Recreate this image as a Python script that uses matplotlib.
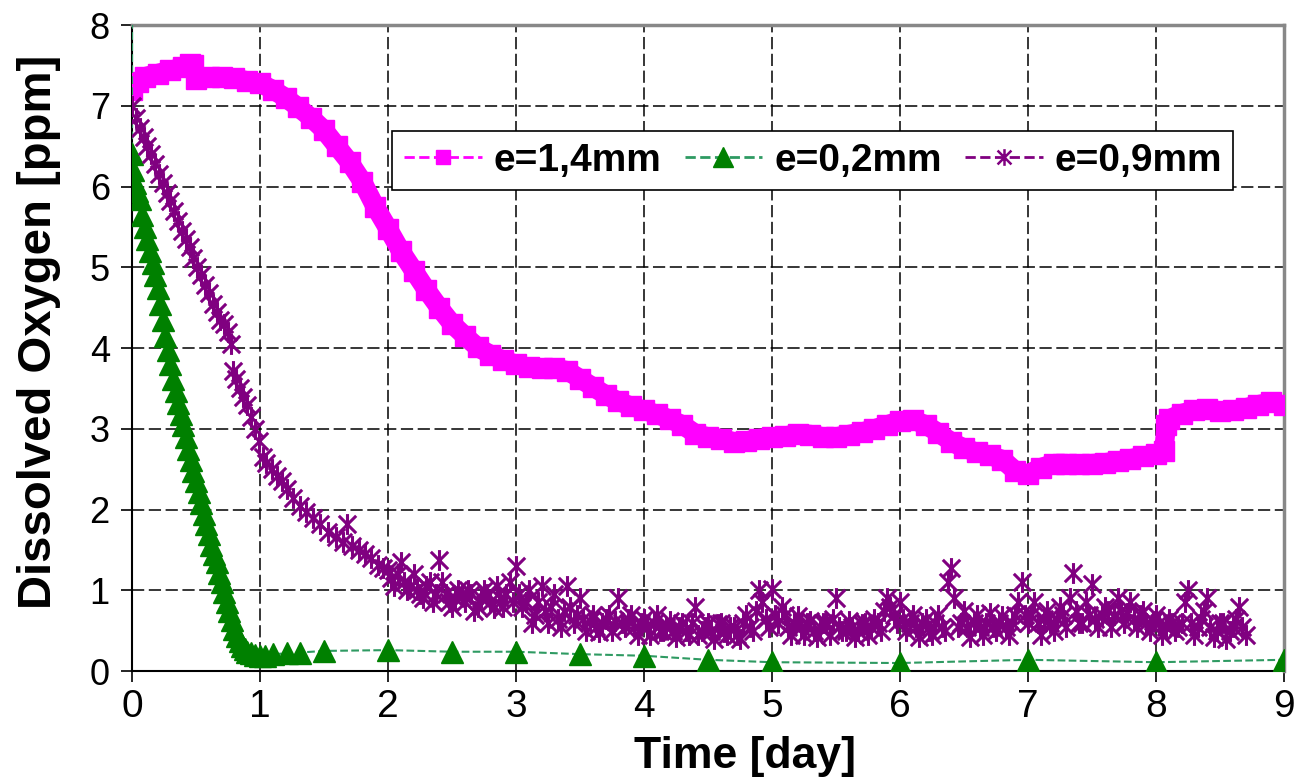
import numpy as np
import matplotlib
matplotlib.use("Agg")
import matplotlib.pyplot as plt
from matplotlib.lines import Line2D
from matplotlib.path import Path

plt.rcParams['font.family'] = ['Liberation Sans', 'DejaVu Sans']

# e=1,4mm
t_14 = [0, 0.05, 0.1, 0.2, 0.3, 0.4, 0.45, 0.48, 0.5, 0.6, 0.7, 0.8, 0.9, 1.0,
        1.1, 1.2, 1.3, 1.4, 1.5, 1.6, 1.7, 1.8, 1.9, 2.0, 2.1, 2.2, 2.3, 2.4,
        2.5, 2.6, 2.7, 2.8, 2.9, 3.0, 3.1, 3.2, 3.3, 3.4, 3.5, 3.6, 3.7, 3.8,
        3.9, 4.0, 4.1, 4.2, 4.3, 4.4, 4.5, 4.6, 4.7, 4.8, 4.9, 5.0, 5.1, 5.2,
        5.3, 5.4, 5.5, 5.6, 5.7, 5.8, 5.9, 6.0, 6.1, 6.2, 6.3, 6.4, 6.5, 6.6,
        6.7, 6.8, 6.9, 7.0, 7.1, 7.2, 7.3, 7.4, 7.5, 7.6, 7.7, 7.8, 7.9, 8.0,
        8.06, 8.08, 8.1, 8.2, 8.3, 8.4, 8.5, 8.6, 8.7, 8.8, 8.9, 9.0]
do_14 = [7.2, 7.3, 7.36, 7.4, 7.44, 7.48, 7.52, 7.5, 7.33, 7.36, 7.36, 7.34,
         7.31, 7.28, 7.2, 7.1, 6.98, 6.85, 6.7, 6.5, 6.3, 6.06, 5.75, 5.48,
         5.2, 4.96, 4.72, 4.5, 4.3, 4.15, 4.01, 3.92, 3.85, 3.8, 3.76, 3.75,
         3.75, 3.72, 3.62, 3.52, 3.42, 3.34, 3.28, 3.23, 3.18, 3.12, 3.05, 2.94,
         2.9, 2.88, 2.84, 2.85, 2.88, 2.9, 2.91, 2.94, 2.93, 2.9, 2.9, 2.93,
         2.96, 3.0, 3.05, 3.1, 3.11, 3.05, 2.95, 2.84, 2.76, 2.71, 2.67, 2.62,
         2.48, 2.44, 2.52, 2.57, 2.57, 2.56, 2.57, 2.58, 2.6, 2.63, 2.66, 2.69,
         2.72, 3.05, 3.12, 3.19, 3.23, 3.25, 3.22, 3.23, 3.26, 3.3, 3.33, 3.29]

# e=0,2mm
t_02 = [0, 0, 0.01, 0.02, 0.04, 0.06, 0.08, 0.1, 0.12, 0.14, 0.16, 0.18, 0.2,
        0.22, 0.24, 0.26, 0.28, 0.3, 0.32, 0.34, 0.36, 0.38, 0.4, 0.42, 0.44,
        0.46, 0.48, 0.5, 0.52, 0.54, 0.56, 0.58, 0.6, 0.62, 0.64, 0.66, 0.68,
        0.7, 0.72, 0.74, 0.76, 0.78, 0.8, 0.82, 0.84, 0.86, 0.88, 0.9, 0.93,
        0.96, 1.0, 1.04, 1.1, 1.21, 1.31, 1.5, 2.0, 2.5, 3.0, 3.5, 4.0, 4.5,
        5.0, 6.0, 7.0, 8.0, 9.0]
do_02 = [8.6, 6.4, 6.2, 6.05, 5.95, 5.85, 5.65, 5.5, 5.35, 5.2, 5.05, 4.9, 4.75,
         4.55, 4.35, 4.15, 3.98, 3.8, 3.62, 3.47, 3.32, 3.18, 3.05, 2.9, 2.75,
         2.62, 2.48, 2.35, 2.22, 2.08, 1.95, 1.82, 1.7, 1.56, 1.45, 1.35, 1.22,
         1.1, 0.98, 0.86, 0.74, 0.63, 0.52, 0.44, 0.37, 0.31, 0.27, 0.24, 0.22,
         0.2, 0.19, 0.19, 0.21, 0.22, 0.23, 0.25, 0.26, 0.24, 0.24, 0.21, 0.19,
         0.14, 0.11, 0.1, 0.14, 0.11, 0.14]

# e=0,9mm, first two days
t_09a = [0, 0.03, 0.06, 0.09, 0.12, 0.15, 0.18, 0.21, 0.24, 0.27, 0.3, 0.33,
         0.36, 0.39, 0.42, 0.45, 0.48, 0.51, 0.54, 0.57, 0.6, 0.63, 0.66, 0.69,
         0.72, 0.75, 0.77, 0.79, 0.81, 0.84, 0.87, 0.9, 0.93, 0.96, 0.99, 1.02,
         1.05, 1.09, 1.13, 1.17, 1.21, 1.26, 1.31, 1.36, 1.41, 1.47, 1.53, 1.59,
         1.65, 1.68, 1.72, 1.77, 1.82, 1.87, 1.92, 1.96]
do_09a = [7.0, 6.85, 6.72, 6.62, 6.5, 6.4, 6.28, 6.15, 6.05, 5.92, 5.82, 5.7,
          5.58, 5.45, 5.35, 5.25, 5.12, 5.0, 4.9, 4.78, 4.68, 4.55, 4.45, 4.35,
          4.3, 4.2, 4.05, 3.72, 3.62, 3.5, 3.4, 3.3, 3.15, 3.0, 2.85, 2.65,
          2.58, 2.5, 2.42, 2.35, 2.25, 2.14, 2.05, 1.97, 1.9, 1.82, 1.72, 1.66,
          1.6, 1.82, 1.55, 1.5, 1.45, 1.4, 1.32, 1.28]
# e=0,9mm, day 2 to 8.7, readings at 2.00, 2.05, ...
do_09b = [1.25, 1.05, 1.35, 1.0, 1.2, 0.95, 1.05, 0.85, 1.37, 0.95,
          0.8, 1.0, 0.85, 0.95, 0.8, 1.0, 0.85, 1.05, 0.8, 1.1,
          1.3, 0.8, 1.0, 0.7, 1.05, 0.6, 0.95, 0.55, 1.05, 0.6,
          0.9, 0.5, 0.7, 0.48, 0.65, 0.5, 0.9, 0.55, 0.7, 0.45,
          0.65, 0.45, 0.7, 0.5, 0.62, 0.42, 0.6, 0.45, 0.8, 0.5,
          0.6, 0.4, 0.6, 0.45, 0.55, 0.4, 0.7, 0.5, 1.0, 0.65,
          1.02, 0.6, 0.7, 0.45, 0.68, 0.45, 0.62, 0.42, 0.6, 0.45,
          0.9, 0.5, 0.62, 0.42, 0.58, 0.45, 0.65, 0.5, 0.9, 0.7,
          0.85, 0.5, 0.7, 0.42, 0.65, 0.45, 0.7, 0.5, 1.28, 0.55,
          0.75, 0.42, 0.7, 0.45, 0.72, 0.5, 0.68, 0.45, 0.7, 1.1,
          0.6, 0.85, 0.45, 0.75, 0.5, 0.8, 0.55, 1.22, 0.6, 0.85,
          1.08, 0.55, 0.8, 0.55, 0.9, 0.6, 0.85, 0.55, 0.75, 0.5,
          0.7, 0.45, 0.65, 0.5, 0.6, 1.0, 0.45, 0.65, 0.9, 0.42,
          0.6, 0.4, 0.55, 0.8, 0.45]
# e=0,9mm, the readings in between (2.025, 2.075, ...)
do_09c = [1.15, 1.2, 1.1, 1.05, 1.0, 0.9, 1.1, 0.95, 1.1, 0.85,
          0.9, 0.95, 1.0, 0.75, 0.9, 0.95, 0.78, 0.9, 0.95, 0.85,
          0.95, 0.85, 0.6, 0.85, 0.75, 0.8, 0.65, 0.75, 0.8, 0.7,
          0.65, 0.62, 0.55, 0.6, 0.7, 0.62, 0.6, 0.65, 0.55, 0.6,
          0.55, 0.6, 0.5, 0.55, 0.5, 0.55, 0.5, 0.6, 0.45, 0.55,
          0.5, 0.58, 0.48, 0.55, 0.45, 0.6, 0.55, 0.75, 0.85, 0.55,
          0.7, 0.8, 0.55, 0.6, 0.55, 0.6, 0.5, 0.55, 0.6, 0.65,
          0.55, 0.5, 0.55, 0.5, 0.6, 0.55, 0.6, 0.75, 0.8, 0.6,
          0.65, 0.6, 0.55, 0.6, 0.5, 0.6, 0.55, 1.1, 0.9, 0.6,
          0.55, 0.6, 0.55, 0.6, 0.55, 0.6, 0.55, 0.6, 0.85, 0.7,
          0.7, 0.6, 0.65, 0.6, 0.65, 0.7, 0.9, 0.75, 0.6, 0.7,
          0.65, 0.7, 0.75, 0.7, 0.75, 0.72, 0.65, 0.7, 0.6, 0.62,
          0.6, 0.55, 0.6, 0.55, 0.85, 0.6, 0.55, 0.75, 0.55, 0.5,
          0.6, 0.5, 0.65, 0.55]
t_09b = np.round(2.0 + 0.05 * np.arange(len(do_09b)), 3)
t_09c = np.round(2.025 + 0.05 * np.arange(len(do_09c)), 3)

labels = ['e=1,4mm', 'e=0,2mm', 'e=0,9mm']
pink = '#ff00ff'
green = '#008000'
green_line = '#2e9a62'
purple = '#800080'

# Excel-like star marker: an X with a vertical bar
star = Path([(-1, -1), (1, 1), (-1, 1), (1, -1), (0, -1.2), (0, 1.2)],
            [Path.MOVETO, Path.LINETO] * 3)

fig = plt.figure(figsize=(13.01, 7.84), dpi=100)
ax = fig.add_axes([0.1015, 0.144, 0.8855, 0.824])

ax.plot(t_14, do_14, color=pink, lw=14, solid_capstyle='butt',
        marker='s', ms=14, mec=pink, zorder=3)
ax.plot(t_02, do_02, color=green_line, lw=1.5, ls='--', zorder=3)
ax.plot(t_02, do_02, ls='none', marker='^', ms=16, color=green, zorder=4)
for tt, vv in [(t_09a, do_09a), (t_09b, do_09b), (t_09c, do_09c)]:
    ax.plot(tt, vv, ls='none', marker=star, ms=15, mfc='none',
            mec=purple, mew=2.2, zorder=5)

ax.set_xlim(0, 9)
ax.set_ylim(0, 8)
ax.set_xticks(range(0, 10))
ax.set_yticks(range(0, 9))
ax.grid(True, color='black', ls=(0, (8, 3)), lw=1.1)
ax.set_axisbelow(True)

for side in ['top', 'right']:
    ax.spines[side].set_color('#888888')
    ax.spines[side].set_linewidth(2.5)
for side in ['left', 'bottom']:
    ax.spines[side].set_color('black')
    ax.spines[side].set_linewidth(1.5)

ax.tick_params(axis='both', direction='out', length=8, width=1.2)
ax.tick_params(axis='y', labelsize=26, pad=8)
ax.tick_params(axis='x', labelsize=28, pad=5)

ax.set_xlabel('Time [day]', fontsize=32, fontweight='bold')
ax.xaxis.set_label_coords(0.532, -0.1)
ax.set_ylabel('Dissolved Oxygen [ppm]', fontsize=34, fontweight='bold')
ax.yaxis.set_label_coords(-0.062, 0.525)

handles = [
    Line2D([], [], color=pink, ls='--', lw=2, marker='s', ms=10),
    Line2D([], [], color=green_line, ls='--', lw=2, marker='^', ms=15,
           mfc=green, mec=green),
    Line2D([], [], color=purple, ls='--', lw=2, marker=star, ms=12,
           mfc='none', mec=purple, mew=1.8),
]
leg = ax.legend(handles, labels, loc='upper left',
                bbox_to_anchor=(0.226, 0.836), borderaxespad=0, ncol=3,
                fancybox=False, framealpha=1, edgecolor='black',
                handlelength=2.0, handletextpad=0.3, columnspacing=0.6,
                borderpad=0.3, prop={'size': 28, 'weight': 'bold'})
leg.get_frame().set_linewidth(1.2)
leg.set_zorder(10)

fig.savefig('out.png', dpi=100)
